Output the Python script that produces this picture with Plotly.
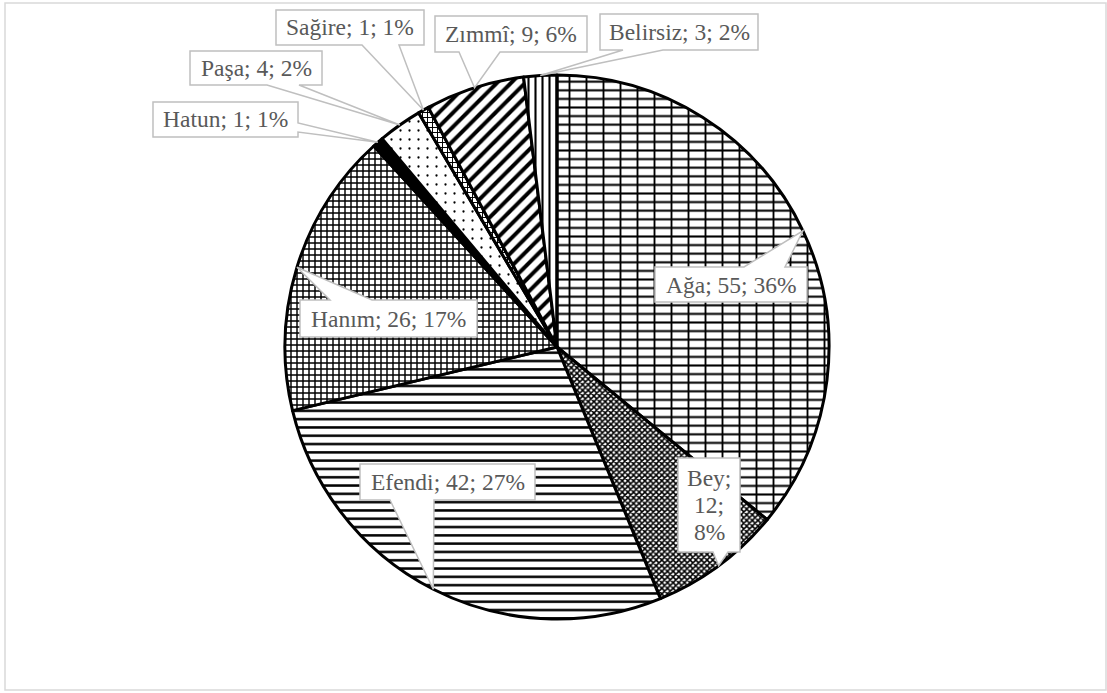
import math
import plotly.graph_objects as go

FONT_FAMILY = "Liberation Serif, Times New Roman, serif"
TEXT_GREY = "#595959"
BOX_GREY = "#BFBFBF"
W, H = 1107, 693

labels = ["Ağa", "Bey", "Efendi", "Hanım", "Hatun", "Paşa", "Sağire", "Zımmî", "Belirsiz"]
counts = [55, 12, 42, 26, 1, 4, 1, 9, 3]
percents = [36, 8, 27, 17, 1, 2, 1, 6, 2]

# black & white hatching, one per slice
pattern_shapes = ["-", "x", "-", "+", "", ".", "+", "/", "|"]
pattern_sizes = [8.6, 4, 8.3, 6, 8, 9, 5, 10, 7]
pattern_solid = [0.24, 0.62, 0.3, 0.42, 0.3, 0.05, 0.35, 0.4, 0.3]
slice_colors = ["white", "white", "white", "white", "black", "white", "white", "white", "white"]

# pie placement in pixels (centre + radius)
CX, CY, R = 557, 347, 272

# callout boxes (left, top, right, bottom) and where the pointer leaves the box
CALLOUTS = {
    "Ağa":      dict(box=(655, 267, 807, 302), side="top",    base=(744, 785)),
    "Bey":      dict(box=(678, 458, 740, 552), side="bottom", base=(713, 728)),
    "Efendi":   dict(box=(360, 464, 535, 500), side="bottom", base=(390, 434)),
    "Hanım":    dict(box=(300, 300, 477, 337), side="top",    base=(330, 372)),
    "Hatun":    dict(box=(153, 102, 298, 137), side="right",  base=(123, 132)),
    "Paşa":     dict(box=(190, 51, 322, 85),   side="bottom", base=(267, 299)),
    "Sağire":   dict(box=(276, 10, 424, 45),   side="bottom", base=(362, 399)),
    "Zımmî":    dict(box=(435, 16, 587, 52),   side="bottom", base=(459, 500)),
    "Belirsiz": dict(box=(600, 14, 758, 50),   side="bottom", base=(623, 663)),
}
LINE_STEP = 27  # px between lines of a wrapped label


def px(x, y):
    return x / W, 1 - y / H


def callout_path(box, side, base, tip):
    l, t, r, b = box
    a1, a2 = base
    if side == "top":
        pts = [(l, t), (a1, t), tip, (a2, t), (r, t), (r, b), (l, b)]
    elif side == "bottom":
        pts = [(l, t), (r, t), (r, b), (a2, b), tip, (a1, b), (l, b)]
    else:
        pts = [(l, t), (r, t), (r, a1), tip, (r, a2), (r, b), (l, b)]
    return "M " + " L ".join("%.5f,%.5f" % px(x, y) for x, y in pts) + " Z"


total = sum(counts)
dom_x = [(CX - R) / W, (CX + R) / W]
dom_y = [1 - (CY + R) / H, 1 - (CY - R) / H]

fig = go.Figure()
fig.add_trace(go.Pie(
    labels=labels, values=counts, sort=False, direction="clockwise", rotation=0,
    textinfo="none", hoverinfo="label+value+percent",
    domain=dict(x=dom_x, y=dom_y),
    marker=dict(
        colors=slice_colors,
        line=dict(color="black", width=3),
        pattern=dict(shape=pattern_shapes, size=pattern_sizes, solidity=pattern_solid,
                     fgcolor="black", bgcolor="white", fillmode="replace"),
    ),
    showlegend=False,
))
# vertical joints of the brick pattern on the Ağa slice
fig.add_trace(go.Pie(
    labels=labels, values=counts, sort=False, direction="clockwise", rotation=0,
    textinfo="none", hoverinfo="skip",
    domain=dict(x=dom_x, y=dom_y),
    marker=dict(
        colors=["rgba(0,0,0,0)"] * len(labels),
        line=dict(width=0),
        pattern=dict(shape=["|"] + [""] * (len(labels) - 1), size=17, solidity=0.11,
                     fgcolor="black", bgcolor="rgba(0,0,0,0)", fillmode="replace"),
    ),
    showlegend=False,
))

shapes = [dict(type="rect", xref="paper", yref="paper",
               x0=5 / W, x1=1106 / W, y0=1 - 690 / H, y1=1 - 3 / H,
               line=dict(color="#D9D9D9", width=1.5), layer="below")]
annotations = []
cum = 0
for lab, val, pct in zip(labels, counts, percents):
    ang = math.radians((cum + val / 2) / total * 360)
    cum += val
    tip = (CX + R * math.sin(ang), CY - R * math.cos(ang))
    c = CALLOUTS[lab]
    shapes.append(dict(type="path", xref="paper", yref="paper",
                       path=callout_path(c["box"], c["side"], c["base"], tip),
                       fillcolor="white", line=dict(color=BOX_GREY, width=1.5), layer="above"))
    l, t, r, b = c["box"]
    parts = [f"{lab};", f"{val};", f"{pct}%"]
    lines = [" ".join(parts)] if lab != "Bey" else parts
    for i, line in enumerate(lines):
        yy = (t + b) / 2 + (i - (len(lines) - 1) / 2) * LINE_STEP
        cx, cy = px((l + r) / 2, yy)
        annotations.append(dict(x=cx, y=cy, xref="paper", yref="paper", text=line,
                                showarrow=False, xanchor="center", yanchor="middle",
                                font=dict(family=FONT_FAMILY, size=23.5, color=TEXT_GREY)))

fig.update_layout(
    width=W, height=H,
    margin=dict(l=0, r=0, t=0, b=0),
    paper_bgcolor="white", plot_bgcolor="white",
    font=dict(family=FONT_FAMILY),
    shapes=shapes, annotations=annotations,
    showlegend=False,
)
fig.write_html("out.html", config={"displayModeBar": False},
               post_script="document.body.style.margin='0';")
